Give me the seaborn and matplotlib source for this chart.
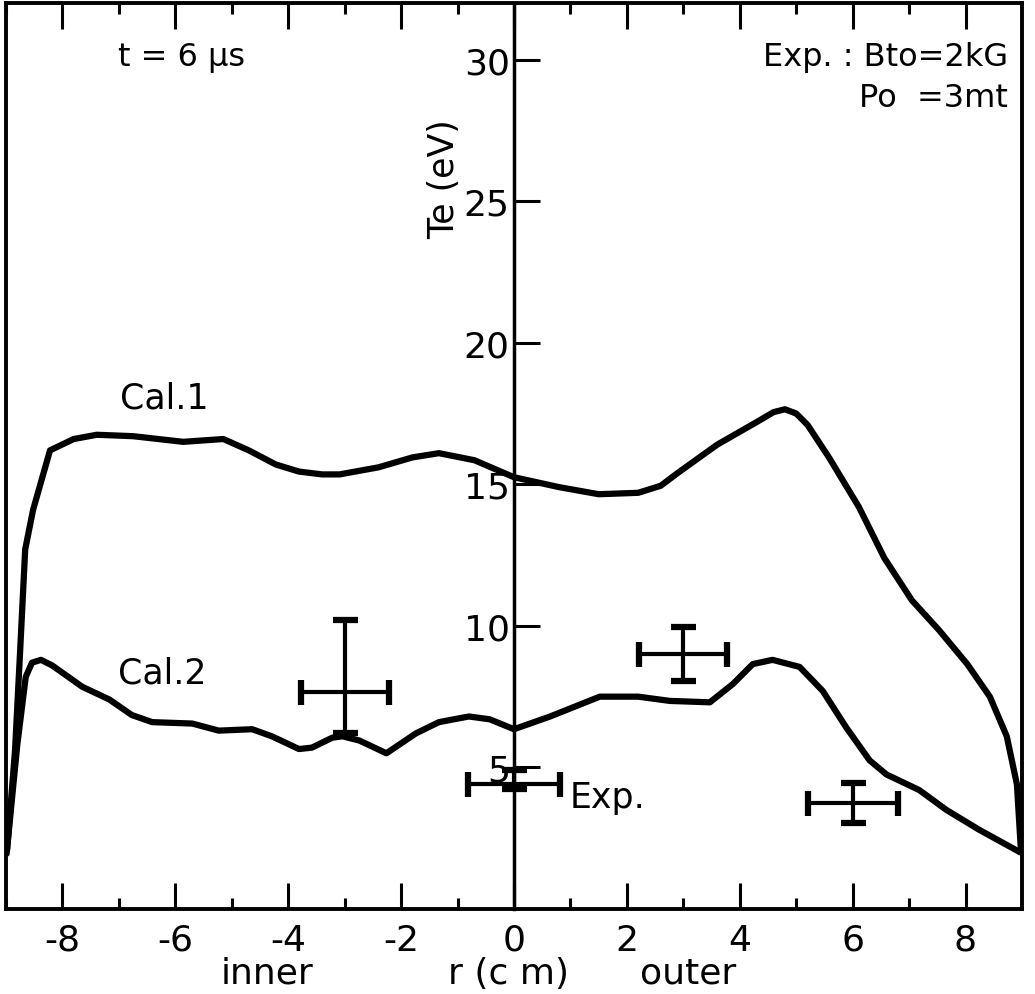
import matplotlib
matplotlib.use("Agg")
import matplotlib.pyplot as plt
import matplotlib.font_manager as fm
import numpy as np
import pandas as pd
import seaborn as sns

# ---- data ----
cal1_r = [-8.98, -8.84, -8.75, -8.66, -8.52, -8.22, -7.8, -7.39, -6.75, -5.86, -5.15,
          -4.7, -4.22, -3.81, -3.4, -3.09, -2.4, -1.8, -1.33, -0.7, 0.0, 0.8, 1.5, 2.2,
          2.6, 2.9, 3.6, 4.3, 4.6, 4.8, 5.0, 5.2, 5.58, 6.11, 6.56, 7.05, 7.53, 8.03,
          8.43, 8.73, 8.91, 8.98]
cal1_te = [2.1, 5.6, 9.1, 12.7, 14.1, 16.2, 16.6, 16.75, 16.7, 16.5, 16.6,
           16.2, 15.7, 15.45, 15.35, 15.35, 15.6, 15.95, 16.1, 15.85, 15.25, 14.9, 14.65, 14.7,
           14.95, 15.4, 16.4, 17.2, 17.55, 17.65, 17.5, 17.1, 15.95, 14.2, 12.4, 10.9, 9.85, 8.65,
           7.5, 6.1, 4.4, 2.1]

cal2_r = [-8.99, -8.8, -8.65, -8.54, -8.38, -8.18, -7.65, -7.17, -6.77, -6.41,
          -5.7, -5.23, -4.64, -4.29, -3.81, -3.58, -3.22, -3.04, -2.74, -2.26,
          -1.74, -1.33, -0.8, -0.43, 0.0, 0.64, 1.52, 2.2, 2.76, 3.47, 3.88,
          4.23, 4.58, 5.06, 5.47, 5.89, 6.3, 6.6, 7.18, 7.66, 8.24, 8.97]
cal2_te = [1.95, 5.8, 8.2, 8.7, 8.8, 8.6, 7.85, 7.4, 6.85, 6.6,
           6.55, 6.3, 6.35, 6.1, 5.65, 5.7, 6.05, 6.1, 5.95, 5.5,
           6.2, 6.6, 6.8, 6.7, 6.35, 6.8, 7.5, 7.5, 7.35, 7.3, 7.95,
           8.65, 8.8, 8.55, 7.7, 6.4, 5.25, 4.75, 4.2, 3.5, 2.8, 2.0]

exp_r = [-3.0, 0.0, 3.0, 6.0]
exp_te = [7.65, 4.4, 9.0, 3.75]
exp_r_err = [0.78, 0.82, 0.78, 0.8]
exp_te_lo = [1.45, 0.16, 0.95, 0.7]
exp_te_hi = [2.55, 0.5, 0.95, 0.7]

x_major = [-8, -6, -4, -2, 0, 2, 4, 6, 8]
x_major_labels = ["-8", "-6", "-4", "-2", "0", "2", "4", "6", "8"]
x_minor = [-9, -7, -5, -3, -1, 1, 3, 5, 7]
y_ticks = [5, 10, 15, 20, 25, 30]
y_tick_labels = ["5", "10", "15", "20", "25", "30"]

# ---- style ----
sns.set_style("white")
names = {f.name for f in fm.fontManager.ttflist}
fam = "Liberation Sans Narrow" if "Liberation Sans Narrow" in names else "DejaVu Sans"
plt.rcParams["font.family"] = [fam, "DejaVu Sans"]
plt.rcParams["text.color"] = "black"
plt.rcParams["xtick.color"] = "black"
plt.rcParams["ytick.color"] = "black"
plt.rcParams["axes.labelcolor"] = "black"

fig = plt.figure(figsize=(10.35, 9.95), dpi=100)
pos = [6 / 1035, 85 / 995, 1016 / 1035, 906 / 995]
ax = fig.add_axes(pos)

df1 = pd.DataFrame({"r": cal1_r, "Te": cal1_te})
df2 = pd.DataFrame({"r": cal2_r, "Te": cal2_te})
sns.lineplot(data=df1, x="r", y="Te", sort=False, estimator=None, color="black",
             linewidth=4.5, ax=ax, solid_joinstyle="round", solid_capstyle="round")
sns.lineplot(data=df2, x="r", y="Te", sort=False, estimator=None, color="black",
             linewidth=4.5, ax=ax, solid_joinstyle="round", solid_capstyle="round")

ax.errorbar(exp_r, exp_te, xerr=exp_r_err, yerr=[exp_te_lo, exp_te_hi],
            fmt="none", ecolor="black", elinewidth=3, capsize=9, capthick=4.5)

ax.set_xlim(-9, 9)
ax.set_ylim(0, 32)

# axes / spines
for s in ["top", "bottom", "right"]:
    ax.spines[s].set_visible(False)
ax.spines["left"].set_position(("data", 0))
ax.spines["left"].set_linewidth(2.5)
ax.spines["left"].set_color("black")

ax.set_xticks(x_major)
ax.set_xticklabels(x_major_labels, fontsize=26)
ax.set_xticks(x_minor, minor=True)
ax.tick_params(axis="x", which="both", direction="in", top=True, bottom=True,
               width=2.2, color="black", labelcolor="black", pad=10)
ax.tick_params(axis="x", which="major", length=19)
ax.tick_params(axis="x", which="minor", length=8)

ax.set_yticks(y_ticks)
ax.set_yticklabels(y_tick_labels, fontsize=26)
ax.tick_params(axis="y", which="major", direction="in", length=19, width=2.2,
               color="black", labelcolor="black", pad=3, left=True, right=False)
ax.set_xlabel("")
ax.set_ylabel("")

# frame
frame = fig.add_axes(pos, facecolor="none")
frame.set_xticks([])
frame.set_yticks([])
for s in frame.spines.values():
    s.set_linewidth(2.8)
    s.set_color("black")

# texts
ax.text(-7.02, 30.1, "t = 6 μs", fontsize=23, ha="left", va="center")
ax.text(8.75, 30.1, "Exp. : Bto=2kG", fontsize=23, ha="right", va="center")
ax.text(8.75, 28.65, "Po  =3mt", fontsize=23, ha="right", va="center")
ax.text(-1.23, 25.8, "Te (eV)", fontsize=25, ha="center", va="center", rotation=90)
ax.text(-6.98, 18.07, "Cal.1", fontsize=25, ha="left", va="center")
ax.text(-7.02, 8.37, "Cal.2", fontsize=25, ha="left", va="center")
ax.text(0.99, 3.95, "Exp.", fontsize=25, ha="left", va="center")
ax.text(-4.37, -2.25, "inner", fontsize=26, ha="center", va="center", clip_on=False)
ax.text(-0.1, -2.25, "r (c m)", fontsize=26, ha="center", va="center", clip_on=False)
ax.text(3.08, -2.25, "outer", fontsize=26, ha="center", va="center", clip_on=False)

fig.savefig("out.png", dpi=100, facecolor="white")
